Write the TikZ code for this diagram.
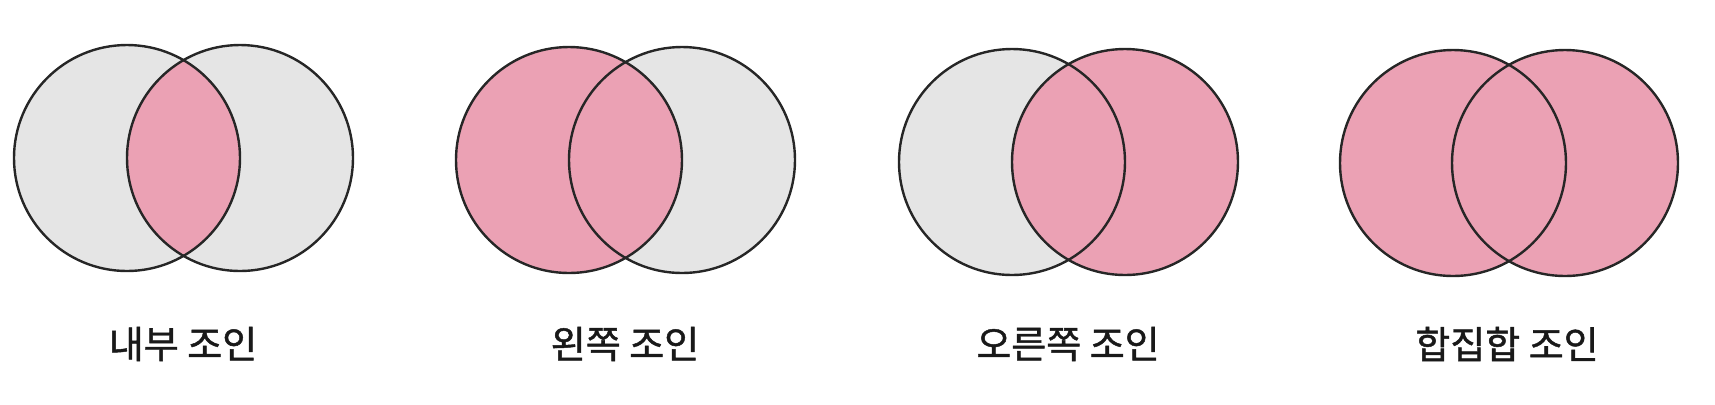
\documentclass[tikz,border=0pt]{standalone}
\usepackage{fontspec}
\newfontfamily\kr[FakeBold=1.2]{Noto Sans CJK KR}
\definecolor{vpink}{RGB}{235,161,180}
\definecolor{vgray}{RGB}{229,229,229}
\begin{document}
\begin{tikzpicture}[x=0.5pt,y=-0.5pt,
  ring/.style={draw=black!85,line width=1.2pt},
  lbl/.style={font=\kr\fontsize{19pt}{22pt}\selectfont,text=black!90,inner sep=0pt}]
\useasboundingbox (0,0) rectangle (1715,404);
\def\R{113}
% pair 1: inner join
\fill[vgray] (127,158) circle (\R);
\fill[vgray] (240,158) circle (\R);
\begin{scope}
  \clip (127,158) circle (\R);
  \fill[vpink] (240,158) circle (\R);
\end{scope}
\draw[ring] (127,158) circle (\R);
\draw[ring] (240,158) circle (\R);
\node[lbl] (l1) at (183,344) {내부 조인};
% pair 2: left join
\fill[vgray] (682,160) circle (\R);
\fill[vpink] (569,160) circle (\R);
\draw[ring] (569,160) circle (\R);
\draw[ring] (682,160) circle (\R);
\node[lbl] (l2) at (625,344) {왼쪽 조인};
% pair 3: right join
\fill[vgray] (1012,162) circle (\R);
\fill[vpink] (1125,162) circle (\R);
\draw[ring] (1012,162) circle (\R);
\draw[ring] (1125,162) circle (\R);
\node[lbl] (l3) at (1068,344) {오른쪽 조인};
% pair 4: full outer join
\fill[vpink] (1453,163) circle (\R);
\fill[vpink] (1565,163) circle (\R);
\draw[ring] (1453,163) circle (\R);
\draw[ring] (1565,163) circle (\R);
\node[lbl] (l4) at (1507,344) {합집합 조인};
\end{tikzpicture}
\end{document}
